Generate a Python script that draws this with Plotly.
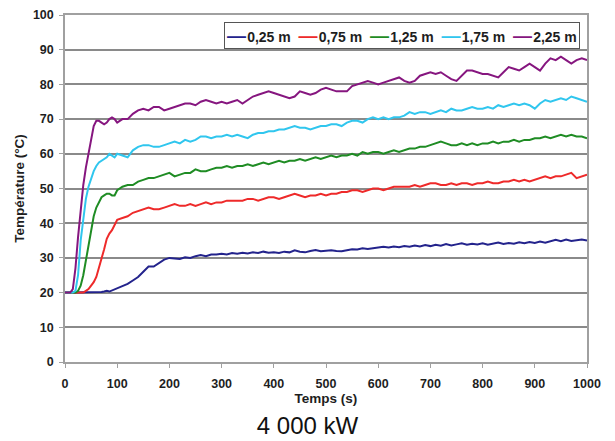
import plotly.graph_objects as go

# sample times (s): every 5 s up to 100 s, then every 10 s
time_s = list(range(0, 100, 5)) + list(range(100, 1001, 10))

series_names = ["0,25 m", "0,75 m", "1,25 m", "1,75 m", "2,25 m"]
series_colors = ["#23238c", "#ee2a2a", "#1f8c24", "#30c6ee", "#86167f"]

t_025 = [20, 20, 20, 20, 20, 20, 20, 20, 20, 20, 20, 20, 20, 20, 20.2, 20.3, 20.5, 20.3, 20.6,
         21, 21.3,
         21.8, 22.5, 23.5, 24.5, 26, 27.5, 27.5, 28.5, 29.5, 30,
         29.8, 29.7, 30.2, 30, 30.5, 30.8, 30.5, 31, 31, 31.2,
         31, 31.4, 31.2, 31.5, 31.3, 31.6, 31.4, 31.8, 31.5, 31.6,
         31.4, 31.8, 31.6, 32.2, 31.8, 31.6, 32, 32.3, 31.9, 32,
         32.2, 32, 31.9, 32.2, 32.5, 32.4, 32.8, 32.6, 32.9, 33,
         33.2, 33, 33.3, 33.1, 33.4, 33.2, 33.6, 33.3, 33.7, 33.4,
         33.8, 33.5, 34, 33.6, 33.9, 34.2, 33.8, 34.1, 33.9, 34.2,
         33.8, 34.1, 34.4, 34, 34.3, 34.1, 34.5, 34.2, 34.6, 34.3,
         34.7, 34.4, 34.9, 35.2, 34.8, 35.3, 34.9, 35.1, 35.3, 35]

t_075 = [20, 20, 20, 20, 20, 20, 20, 20, 20.5, 21, 22, 23, 24.5, 27, 29.5, 32.5, 35.5, 37, 38, 39.5,
         41,
         41.5, 42, 43, 43.5, 44, 44.5, 44, 44, 44.5, 45,
         45.5, 45, 45, 45.5, 45, 45.5, 46, 45.5, 46, 46,
         46.5, 46.5, 46.5, 46.5, 47, 47, 46.5, 47, 47.5, 47.5,
         47, 47.5, 48, 48.5, 48, 47.5, 48, 48, 48.5, 48,
         48.5, 48.5, 49, 49, 49.5, 49.5, 49, 49.5, 50, 50,
         49.5, 50, 50.5, 50.5, 50.5, 50.5, 51, 50.5, 51, 51.5,
         51.5, 51, 51, 51.5, 51, 51.5, 51.5, 51, 51.5, 51.5,
         52, 51.5, 51.5, 52, 52, 52.5, 52, 52.5, 52, 52.5,
         53, 53.5, 53, 53.5, 53.5, 54, 54.5, 53, 53.5, 54]

t_125 = [20, 20, 20, 20, 20, 20.5, 22, 25, 29, 33, 38, 42, 44.5, 46, 47.5, 48, 48.5, 48.5, 48, 48,
         49.5,
         50.5, 51, 51, 52, 52.5, 53, 53, 53.5, 54, 54.5,
         53.5, 54, 54.5, 54.5, 55.5, 55, 55, 55.5, 56, 56,
         56.5, 56, 56.5, 56.5, 57, 56.5, 57, 57.5, 57, 57.5,
         58, 57.5, 58, 58, 58.5, 58, 58.5, 59, 58.5, 59,
         59.5, 59, 59.5, 59.5, 60, 59.5, 60.5, 60, 60.5, 60.5,
         60, 60.5, 61, 60.5, 61, 61.5, 61.5, 62, 62, 62.5,
         63, 63.5, 63, 62.5, 62.5, 63, 62.5, 63, 62.5, 63,
         63, 63.5, 63, 63.5, 63.5, 64, 63.5, 64, 64, 64.5,
         64.5, 65, 64.5, 65, 65.5, 65, 65.5, 65, 65, 64.5]

t_175 = [20, 20, 20, 20, 20.5, 25, 35, 42, 47, 50.5, 53, 55, 56.5, 57.5, 58, 58.5, 59, 60, 59.5, 59,
         60,
         59.5, 59, 61, 62, 62.5, 62.5, 62, 62, 62.5, 63,
         63.5, 63, 64, 63.5, 64, 65, 65, 64.5, 65, 65,
         65.5, 65, 65.5, 65, 64.5, 65.5, 66, 66, 66.5, 66.5,
         67, 67, 67.5, 68, 67.5, 67.5, 67, 67.5, 68, 68,
         68.5, 68.5, 68, 69, 69.5, 69.5, 69, 70, 70.5, 70,
         70.5, 70, 70.5, 70.5, 71, 72, 71.5, 72, 72, 71.5,
         72, 72.5, 72, 73, 72.5, 72.5, 73, 73.5, 73, 73,
         73.5, 73, 74, 73.5, 74, 74.5, 74, 74.5, 74, 73,
         74.5, 75.5, 75, 75.5, 76, 75.5, 76.5, 76, 75.5, 75]

t_225 = [20, 20, 20, 21, 27, 36, 44, 51, 56, 60, 65, 68, 69.5, 69.5, 69, 68.5, 69, 70, 70.5, 70,
         69,
         70, 70, 71.5, 72.5, 73, 72.5, 73.5, 73.5, 72.5, 73,
         73.5, 74, 74.5, 74.5, 74, 75, 75.5, 75, 74.5, 75,
         74.5, 75, 75.5, 74.5, 75.5, 76.5, 77, 77.5, 78, 77.5,
         77, 76.5, 76, 76.5, 78, 77.5, 77, 77.5, 78.5, 79,
         78.5, 78, 78, 78, 79.5, 80, 80.5, 81, 80.5, 80,
         80.5, 81, 81.5, 82, 81, 80.5, 81, 82.5, 83, 83.5,
         83, 83.5, 82.5, 81.5, 81, 82.5, 84, 84, 83.5, 83,
         83, 82.5, 82, 83.5, 85, 84.5, 84, 85, 86, 85,
         84, 86, 87.5, 87, 88, 87, 86, 87, 87.5, 87]

series_values = [t_025, t_075, t_125, t_175, t_225]

x_ticks = list(range(0, 1001, 100))
y_ticks = list(range(0, 101, 10))

FONT = "Liberation Sans, Arial, sans-serif"
TXT = "#1e1e1e"

fig = go.Figure()
for name, color, vals in zip(series_names, series_colors, series_values):
    fig.add_trace(go.Scatter(x=time_s, y=vals, mode="lines", name=name,
                             line=dict(color=color, width=2), showlegend=False))

# compact legend box, as in the original (line sample glued to the label)
legend_html = "&nbsp;&nbsp;".join(
    f'<span style="color:{c};font-size:19px">—</span><span style="font-size:4px">&nbsp;</span>{n}'
    for n, c in zip(series_names, series_colors)
)
fig.add_annotation(text=legend_html, xref="paper", yref="paper",
                   x=0.9866, xanchor="right", y=0.98, yanchor="top",
                   showarrow=False, align="left",
                   bgcolor="white", bordercolor="#555555", borderwidth=1, borderpad=2,
                   font=dict(family=FONT, size=14, weight="bold", color=TXT))

fig.update_layout(
    width=615, height=441,
    margin=dict(l=65, r=28, t=15, b=79, autoexpand=False),
    paper_bgcolor="white", plot_bgcolor="white",
    font=dict(family=FONT, color=TXT),
    title=dict(text="4 000 kW", x=0.5, xref="container", xanchor="center",
               y=0.034, yref="container", yanchor="middle",
               font=dict(family=FONT, size=24, color="#111111")),
)

fig.update_xaxes(range=[0, 1000], tickvals=x_ticks, showgrid=False, automargin=False,
                 showline=True, linecolor="#a0a0a0", linewidth=1.5, mirror=True,
                 ticks="outside", ticklen=4, tickcolor="#a0a0a0", ticklabelstandoff=5,
                 tickfont=dict(family=FONT, size=12.5, weight="bold", color=TXT),
                 title=dict(text="Temps (s)", standoff=1,
                            font=dict(family=FONT, size=13.5, weight="bold", color=TXT)),
                 zeroline=False)
fig.update_yaxes(range=[0, 100], tickvals=y_ticks, showgrid=True, automargin=False,
                 gridcolor="#8a8a8a", gridwidth=1.6,
                 showline=True, linecolor="#a0a0a0", linewidth=1.5, mirror=True,
                 ticks="outside", ticklen=4, tickcolor="#a0a0a0", ticklabelstandoff=3,
                 tickfont=dict(family=FONT, size=12.5, weight="bold", color=TXT),
                 title=dict(text="Température (°C)", standoff=5,
                            font=dict(family=FONT, size=13.5, weight="bold", color=TXT)),
                 zeroline=False)

fig.write_html("out.html", config={"displayModeBar": False},
               post_script="document.body.style.margin='0';document.body.style.overflow='hidden';")
